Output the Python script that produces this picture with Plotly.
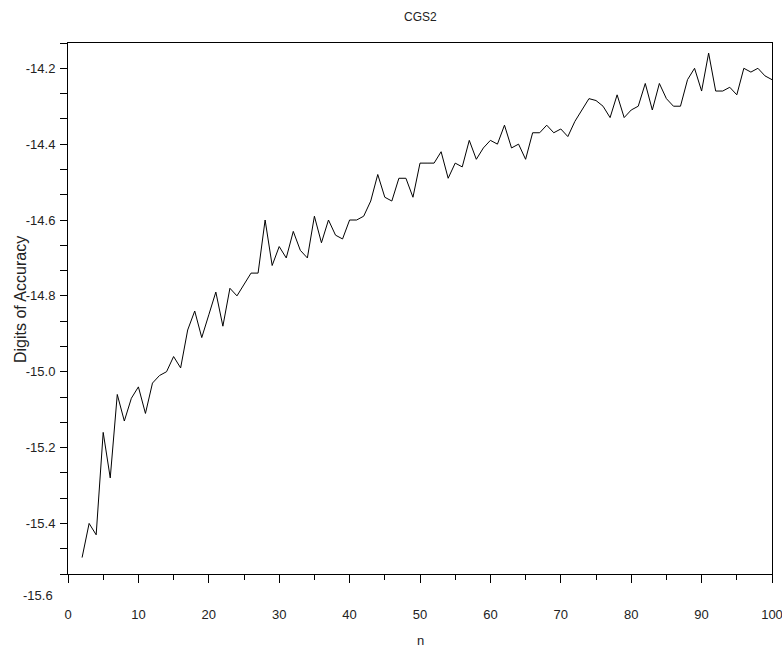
import plotly.graph_objects as go

n = list(range(2, 101))
accuracy = [
    -15.49, -15.40, -15.43, -15.16, -15.28, -15.06, -15.13, -15.07, -15.04,
    -15.11, -15.03, -15.01, -15.00, -14.96, -14.99, -14.89, -14.84, -14.91,
    -14.85, -14.79, -14.88, -14.78, -14.80, -14.77, -14.74, -14.74, -14.60,
    -14.72, -14.67, -14.70, -14.63, -14.68, -14.70, -14.59, -14.66, -14.60,
    -14.64, -14.65, -14.60, -14.60, -14.59, -14.55, -14.48, -14.54, -14.55,
    -14.49, -14.49, -14.54, -14.45, -14.45, -14.45, -14.42, -14.49, -14.45,
    -14.46, -14.39, -14.44, -14.41, -14.39, -14.40, -14.35, -14.41, -14.40,
    -14.44, -14.37, -14.37, -14.35, -14.37, -14.36, -14.38, -14.34, -14.31,
    -14.28, -14.285, -14.30, -14.33, -14.27, -14.33, -14.31, -14.30, -14.24,
    -14.31, -14.24, -14.28, -14.30, -14.30, -14.23, -14.20, -14.26, -14.16,
    -14.26, -14.26, -14.25, -14.27, -14.20, -14.21, -14.20, -14.22, -14.23,
]

x_ticks = list(range(0, 101, 10))
y_ticks = [-14.2, -14.4, -14.6, -14.8, -15.0, -15.2, -15.4]
y_tick_text = ["-14.2", "-14.4", "-14.6", "-14.8", "-15.0", "-15.2", "-15.4"]

title_text = "CGS2"
x_title = "n"
y_title = "Digits of Accuracy"

FONT = "Liberation Sans, Arial, sans-serif"
TXT = "#222222"

STEP = 0.2 / 3
Y_LO, Y_HI = -15.6 + STEP, -14.2 + STEP
y_range = [Y_LO - 1e-6, Y_HI + 1e-6]

all_tick_vals, all_tick_text = [], []
for k in range(22):
    v = Y_HI - k * STEP
    all_tick_vals.append(v)
    lab = ""
    for tv, tt in zip(y_ticks, y_tick_text):
        if abs(tv - v) < 1e-6:
            lab = tt
    all_tick_text.append(lab)

fig = go.Figure()
fig.add_trace(go.Scatter(x=n, y=accuracy, mode="lines",
                         line=dict(color="black", width=1), showlegend=False))

L, R, T, B = 68, 10, 43, 80
W, H = 782, 654
pw, ph = W - L - R, H - T - B

def px_x(p):
    return (p - L) / pw

def px_y(p):
    return (H - B - p) / ph

fig.update_layout(
    width=W, height=H,
    margin=dict(l=L, r=R, t=T, b=B, pad=0),
    plot_bgcolor="white", paper_bgcolor="white",
    font=dict(family=FONT, color=TXT, size=12),
    xaxis=dict(range=[0, 100], tickvals=x_ticks, ticks="outside", ticklen=8,
               tickcolor="black", tickwidth=1, showline=True, linecolor="black",
               linewidth=1, mirror=True, showgrid=False, zeroline=False,
               automargin=False, tickfont=dict(size=13), ticklabelstandoff=20,
               ticklabeloverflow="allow",
               minor=dict(dtick=5, tick0=0, ticks="outside", ticklen=5,
                          tickcolor="black", showgrid=False)),
    yaxis=dict(range=y_range, tickmode="array", tickvals=all_tick_vals,
               ticktext=all_tick_text, ticks="outside", ticklen=7,
               tickcolor="black", tickwidth=1,
               showline=True, linecolor="black", linewidth=1, mirror=True,
               showgrid=False, zeroline=False, tickfont=dict(size=13),
               ticklabelstandoff=2, automargin=False),
    annotations=[
        dict(text=title_text, xref="paper", yref="paper", x=0.5, y=px_y(17),
             showarrow=False, xanchor="center", yanchor="middle",
             font=dict(size=12, color=TXT)),
        dict(text=y_title, xref="paper", yref="paper", x=px_x(20), y=px_y(300),
             showarrow=False, textangle=-90, xanchor="center", yanchor="middle",
             font=dict(size=16, color=TXT)),
        dict(text=x_title, xref="paper", yref="paper", x=0.5, y=px_y(640),
             showarrow=False, xanchor="center", yanchor="middle",
             font=dict(size=13, color=TXT)),
        dict(text="-15.6", xref="paper", yref="paper", x=px_x(55), y=px_y(595),
             showarrow=False, xanchor="right", yanchor="middle",
             font=dict(size=13, color=TXT)),
    ],
)

fig.write_html("out.html")
